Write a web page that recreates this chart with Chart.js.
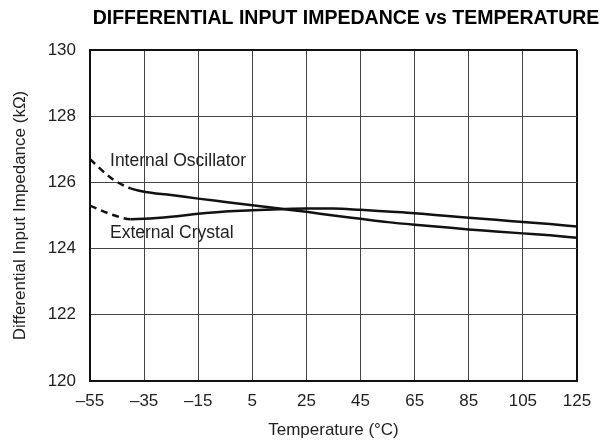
<!DOCTYPE html>
<html>
<head>
<meta charset="utf-8">
<script src="https://cdn.jsdelivr.net/npm/chart.js@4/dist/chart.umd.min.js"></script>
<style>
  html, body { margin: 0; padding: 0; background: #fff; }
  #wrap { width: 610px; height: 445px; position: relative; }
</style>
</head>
<body>
<div id="wrap"><canvas id="chart" width="610" height="445"></canvas></div>
<script>
// temperature points (°C) and impedance readings (kΩ)
const temps = [-55, -47, -40, -35, -25, -15, -5, 5, 15, 25, 35, 45, 55, 65, 75, 85, 95, 105, 115, 125];
const internalOsc = [126.70, 126.12, 125.82, 125.72, 125.62, 125.51, 125.41, 125.31, 125.21, 125.11, 125.00, 124.90, 124.80, 124.72, 124.65, 124.58, 124.52, 124.46, 124.40, 124.33];
const externalXtal = [125.30, 125.03, 124.89, 124.90, 124.96, 125.05, 125.12, 125.16, 125.19, 125.21, 125.21, 125.17, 125.12, 125.07, 125.00, 124.93, 124.87, 124.80, 124.74, 124.67];
const xTicks = [-55, -35, -15, 5, 25, 45, 65, 85, 105, 125];
const yTicks = [120, 122, 124, 126, 128, 130];
const dashedBelow = -40;  // curves are dashed below this temperature

const FONT = "'Liberation Sans', Arial, Helvetica, sans-serif";

function toXY(ys) {
    return temps.map((t, i) => ({ x: t, y: ys[i] }));
}

const lineStyle = {
    borderColor: '#111',
    borderWidth: 2.5,
    pointRadius: 0,
    fill: false,
    cubicInterpolationMode: 'monotone',
    segment: {
        borderDash: ctx => ctx.p1.parsed.x <= dashedBelow ? [7, 5] : undefined
    }
};

// text annotations placed in data units
const curveLabels = [
    { text: 'Internal Oscillator', x: -47.6, y: 126.65 },
    { text: 'External Crystal', x: -47.6, y: 124.47 }
];

const extras = {
    id: 'extras',
    afterDatasetsDraw(chart) {
        const { ctx, scales } = chart;
        ctx.save();
        ctx.fillStyle = '#222';
        ctx.font = '17.5px ' + FONT;
        ctx.textBaseline = 'middle';
        ctx.textAlign = 'left';
        curveLabels.forEach(l => {
            ctx.fillText(l.text, scales.x.getPixelForValue(l.x), scales.y.getPixelForValue(l.y));
        });
        ctx.fillStyle = '#000';
        ctx.font = 'bold 19.5px ' + FONT;
        ctx.textAlign = 'center';
        ctx.fillText('DIFFERENTIAL INPUT IMPEDANCE vs TEMPERATURE', 346, 19);
        ctx.restore();
    }
};

const edgeWidth = (c, n) => (c.index === 0 || c.index === n - 1) ? 2 : 1;

new Chart(document.getElementById('chart'), {
    type: 'line',
    data: {
        datasets: [
            Object.assign({ label: 'Internal Oscillator', data: toXY(internalOsc) }, lineStyle),
            Object.assign({ label: 'External Crystal', data: toXY(externalXtal) }, lineStyle)
        ]
    },
    options: {
        responsive: false,
        animation: false,
        layout: { padding: { top: 50, right: 33, left: 0, bottom: 0 } },
        plugins: { legend: { display: false }, tooltip: { enabled: false } },
        scales: {
            x: {
                type: 'linear',
                min: -55,
                max: 125,
                afterBuildTicks: s => { s.ticks = xTicks.map(v => ({ value: v })); },
                afterFit: s => { s.height = 64; },
                ticks: {
                    color: '#222',
                    font: { family: FONT, size: 17 },
                    padding: 10,
                    maxRotation: 0,
                    autoSkip: false,
                    callback: v => String(v).replace('-', '\u2013')
                },
                grid: {
                    color: c => (c.index === xTicks.length - 1) ? '#111' : '#444',
                    lineWidth: c => edgeWidth(c, xTicks.length),
                    drawTicks: false
                },
                border: { color: '#111', width: 2 },
                title: {
                    display: true,
                    text: 'Temperature (°C)',
                    color: '#222',
                    font: { family: FONT, size: 17 },
                    padding: { top: 0, bottom: 4 }
                }
            },
            y: {
                min: 120,
                max: 130,
                afterBuildTicks: s => { s.ticks = yTicks.map(v => ({ value: v })); },
                afterFit: s => { s.width = 90; },
                ticks: {
                    color: '#222',
                    font: { family: FONT, size: 17 },
                    padding: 14
                },
                grid: {
                    color: c => (c.index === yTicks.length - 1) ? '#111' : '#444',
                    lineWidth: c => edgeWidth(c, yTicks.length),
                    drawTicks: false
                },
                border: { color: '#111', width: 2 },
                title: {
                    display: true,
                    text: 'Differential Input Impedance (kΩ)',
                    color: '#222',
                    font: { family: FONT, size: 17 },
                    padding: { top: 10, bottom: 0 }
                }
            }
        }
    },
    plugins: [extras]
});
</script>
</body>
</html>
